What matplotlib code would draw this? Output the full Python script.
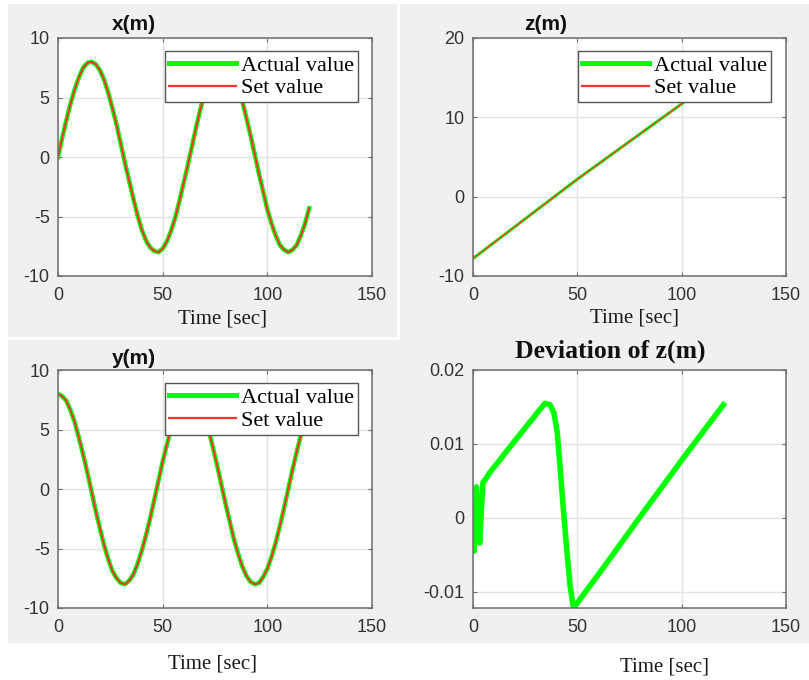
import matplotlib
matplotlib.use("Agg")
import matplotlib.pyplot as plt
from matplotlib.patches import Rectangle

plt.rcParams['axes.unicode_minus'] = False

# time grid (sec) for the trajectory panels
t = list(range(0, 121, 2))

# x(m)
x_act = [0.0, 1.6, 3.1, 4.5, 5.7, 6.7, 7.5, 7.9, 8.0, 7.8, 7.3, 6.5, 5.4, 4.1, 2.7, 1.1,
         -0.5, -2.0, -3.5, -4.9, -6.1, -7.0, -7.6, -7.9, -8.0, -7.7, -7.1, -6.2, -5.1, -3.7,
         -2.2, -0.7, 0.9, 2.5, 4.0, 5.3, 6.3, 7.2, 7.7, 8.0, 7.9, 7.5, 6.8, 5.9, 4.7,
         3.3, 1.8, 0.2, -1.4, -2.9, -4.4, -5.6, -6.6, -7.4, -7.8, -8.0, -7.8, -7.4, -6.6,
         -5.6, -4.3]
x_set = list(x_act)

# y(m)
y_act = [8.0, 7.8, 7.4, 6.6, 5.6, 4.3, 2.9, 1.4, -0.2, -1.8, -3.3, -4.7, -5.9, -6.9, -7.5,
         -7.9, -8.0, -7.7, -7.2, -6.3, -5.2, -3.9, -2.5, -0.9, 0.7, 2.3, 3.7, 5.1, 6.2,
         7.1, 7.7, 8.0, 7.9, 7.6, 7.0, 6.0, 4.9, 3.5, 2.0, 0.4, -1.2, -2.7, -4.2, -5.4,
         -6.5, -7.3, -7.8, -8.0, -7.9, -7.4, -6.7, -5.7, -4.5, -3.1, -1.6, 0.0, 1.6, 3.1,
         4.5, 5.7, 6.8]
y_set = list(y_act)

# z(m)
t_z = [0, 10, 20, 30, 40, 50, 60, 70, 80, 90, 100, 110, 120]
z_act = [-7.8, -5.8, -3.8, -1.8, 0.2, 2.2, 4.1, 6.0, 7.9, 9.8, 11.7, 13.6, 15.5]
z_set = list(z_act)

# deviation of z(m)
t_dev = [0, 0.5, 1.6, 2.2, 3.2, 4.0, 4.8, 6.0, 8.0, 20, 34.5, 36.9, 38.8, 40.4, 41.7,
         43.3, 44.9, 46.5, 47.8, 48.2, 60, 80, 100, 120]
dev = [0.0, -0.0045, 0.0042, 0.0010, -0.0034, 0.0010, 0.0048, 0.0052, 0.0061, 0.0104,
       0.0155, 0.0153, 0.0142, 0.0115, 0.0070, 0.0012, -0.0042, -0.0091, -0.0116,
       -0.0122, -0.0077, 0.0001, 0.0078, 0.0153]

xticks = [0, 50, 100, 150]
yticks_xy = [-10, -5, 0, 5, 10]
yticks_z = [-10, 0, 10, 20]
yticks_dev = [-0.01, 0, 0.01, 0.02]
ylabels_dev = ['-0.01', '0', '0.01', '0.02']

GREEN = '#00ff00'
RED = '#ff3030'
SANS = 'Liberation Sans'
SERIF = 'Liberation Serif'

W, H = 809, 680
fig = plt.figure(figsize=(W / 100, H / 100), dpi=100, facecolor='#f0f0f0')

# white margins of the pasted panels
for (x0, y0, w, h) in [(0, 0, 8, H), (0, 0, W, 4), (0, 643, W, 37),
                       (0, 337, 400, 3), (397, 0, 3, 340)]:
    fig.patches.append(Rectangle((x0 / W, 1 - (y0 + h) / H), w / W, h / H,
                                 transform=fig.transFigure, facecolor='white',
                                 edgecolor='none', zorder=0))


def px_axes(left, top, right, bottom):
    return fig.add_axes([left / W, 1 - bottom / H, (right - left) / W, (bottom - top) / H])


def style(ax, yticks, ylim, ylabels=None):
    ax.set_facecolor('white')
    ax.set_xlim(0, 150)
    ax.set_ylim(*ylim)
    ax.set_xticks(xticks)
    ax.set_yticks(yticks)
    if ylabels is not None:
        ax.set_yticklabels(ylabels)
    ax.grid(True, color='#e3e3e3', linewidth=1.0)
    ax.set_axisbelow(True)
    for s in ax.spines.values():
        s.set_color('#6e6e6e')
        s.set_linewidth(1.1)
    ax.tick_params(direction='in', length=3, width=0.8, color='#6e6e6e',
                   top=True, right=True, labelsize=13, labelcolor='#333333')
    ax.tick_params(axis='x', pad=8)
    ax.tick_params(axis='y', pad=6)
    for lab in ax.get_xticklabels() + ax.get_yticklabels():
        lab.set_fontfamily(SANS)


def add_legend(ax, anchor, thick):
    leg = ax.legend(loc='upper right', bbox_to_anchor=anchor, borderaxespad=0,
                    prop={'family': SERIF, 'size': 16}, fancybox=False,
                    framealpha=1, edgecolor='#555555', handlelength=3.0,
                    handletextpad=0.22, labelspacing=0.1, borderpad=0.18)
    leg.get_frame().set_linewidth(1.0)
    lines = leg.get_lines()
    lines[0].set_linewidth(thick)
    lines[1].set_linewidth(1.6)
    leg.set_zorder(10)
    return leg


# x(m)
ax1 = px_axes(58, 38, 372, 276)
ax1.plot(t, x_act, color=GREEN, linewidth=3.2, label='Actual value')
ax1.plot(t, x_set, color=RED, linewidth=1.4, label='Set value')
style(ax1, yticks_xy, (-10, 10))
add_legend(ax1, (0.955, 0.945), 3.6)

# z(m)
ax2 = px_axes(473, 38, 786, 276)
ax2.plot(t_z, z_act, color=GREEN, linewidth=2.2, label='Actual value')
ax2.plot(t_z, z_set, color=RED, linewidth=0.9, label='Set value')
style(ax2, yticks_z, (-10, 20))
add_legend(ax2, (0.952, 0.945), 3.6)

# y(m)
ax3 = px_axes(58, 370, 372, 608)
ax3.plot(t, y_act, color=GREEN, linewidth=3.2, label='Actual value')
ax3.plot(t, y_set, color=RED, linewidth=1.4, label='Set value')
style(ax3, yticks_xy, (-10, 10))
add_legend(ax3, (0.954, 0.944), 3.6)

# deviation of z(m)
ax4 = px_axes(473, 370, 786, 608)
ax4.plot(t_dev, dev, color=GREEN, linewidth=4.0, solid_joinstyle='round')
style(ax4, yticks_dev, (-0.0122, 0.02), ylabels_dev)

# titles and axis labels placed as in the screenshot
titles = [('x(m)', 134, 25, SANS, 15), ('z(m)', 546, 24, SANS, 15),
          ('y(m)', 134, 358, SANS, 15), ('Deviation of z(m)', 610, 351, SERIF, 18.5)]
for txt, cx, cy, fam, size in titles:
    fig.text(cx / W, 1 - cy / H, txt, ha='center', va='center', family=fam,
             fontsize=size, fontweight='bold', color='#111111')

for cx, cy in [(222, 319), (635, 318), (212, 664), (665, 667)]:
    fig.text(cx / W, 1 - cy / H, 'Time [sec]', ha='center', va='center',
             family=SERIF, fontsize=15, color='#1a1a1a')

fig.savefig('out.png', dpi=100, facecolor=fig.get_facecolor())
